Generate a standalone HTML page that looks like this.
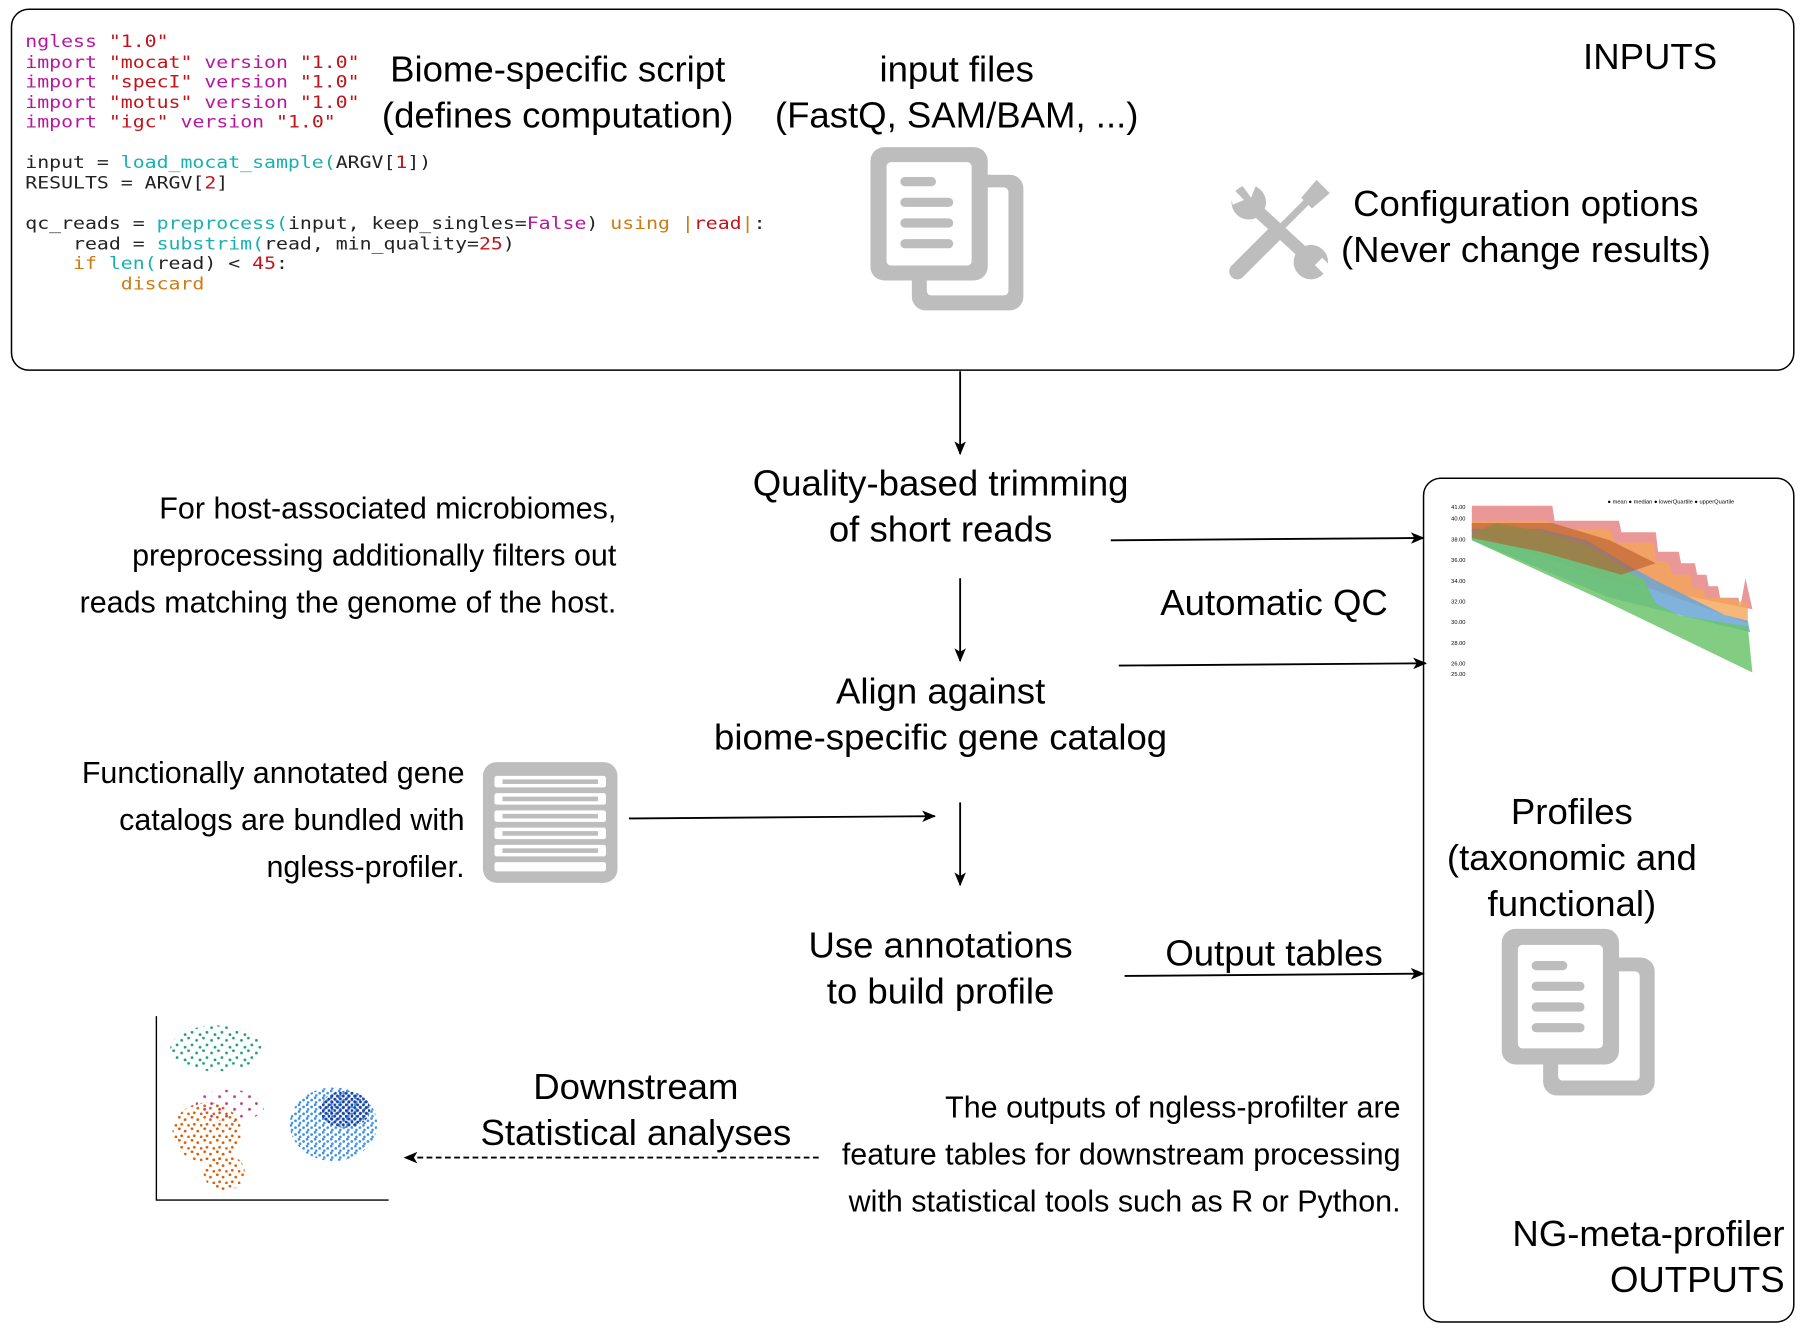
<!DOCTYPE html>
<html><head><meta charset="utf-8"><style>
html,body{margin:0;padding:0;background:#fff}
svg{display:block}
text{font-family:"Liberation Sans",sans-serif;fill:#000}
.c text{font-family:"DejaVu Sans Mono","Liberation Mono",monospace;font-size:15px}
.m{fill:#b5179e}.r{fill:#c0141b}.t{fill:#19b0b0}.o{fill:#d07a12}.k{fill:#222}
.L{font-size:31.8px}.S{font-size:26.5px}
</style></head><body>
<svg width="1803" height="1330" viewBox="0 0 1568 1157" preserveAspectRatio="none" xmlns="http://www.w3.org/2000/svg">
<defs><marker id="a" markerWidth="12" markerHeight="10" refX="11" refY="5" orient="auto" markerUnits="userSpaceOnUse"><path d="M0,0 L12,5 L0,10 L3,5z" fill="#000"/></marker>
<pattern id="pg" width="13" height="11" patternUnits="userSpaceOnUse"><circle cx="2" cy="3" r="1.2" fill="#1a9e77"/><circle cx="8" cy="1" r="1.2" fill="#1a9e77"/><circle cx="11" cy="7" r="1.2" fill="#1a9e77"/><circle cx="5" cy="9" r="1.2" fill="#1a9e77"/></pattern>
<pattern id="pm" width="13" height="11" patternUnits="userSpaceOnUse"><circle cx="2" cy="3" r="1.2" fill="#c0328a"/><circle cx="9" cy="8" r="1.2" fill="#c0328a"/></pattern>
<pattern id="po" width="11" height="10" patternUnits="userSpaceOnUse"><circle cx="2" cy="2" r="1.2" fill="#d95f02"/><circle cx="7" cy="4" r="1.2" fill="#d95f02"/><circle cx="4" cy="8" r="1.2" fill="#d95f02"/><circle cx="10" cy="9" r="1.2" fill="#d95f02"/></pattern>
<pattern id="pb" width="7" height="6" patternUnits="userSpaceOnUse"><circle cx="1" cy="1" r="1.2" fill="#3b8fe0"/><circle cx="5" cy="3" r="1.2" fill="#3b8fe0"/><circle cx="2" cy="5" r="1.1" fill="#3b8fe0"/></pattern>
<pattern id="pd" width="5" height="5" patternUnits="userSpaceOnUse"><circle cx="1" cy="1" r="1.3" fill="#1f3fa0"/><circle cx="3.5" cy="3.5" r="1.3" fill="#1f3fa0"/></pattern>
</defs>
<rect x="10" y="8" width="1550" height="314" rx="15" fill="none" stroke="#000" stroke-width="1.3"/>
<rect x="1238" y="416" width="322" height="734" rx="15" fill="none" stroke="#000" stroke-width="1.3"/>
<g class="c" transform="translate(22,0) scale(1.15,1) translate(-22,0)">
<text x="22" y="41"><tspan class="m">ngless </tspan><tspan class="r">"1.0"</tspan></text>
<text x="22" y="59"><tspan class="m">import </tspan><tspan class="r">"mocat" </tspan><tspan class="m">version </tspan><tspan class="r">"1.0"</tspan></text>
<text x="22" y="76"><tspan class="m">import </tspan><tspan class="r">"specI" </tspan><tspan class="m">version </tspan><tspan class="r">"1.0"</tspan></text>
<text x="22" y="94"><tspan class="m">import </tspan><tspan class="r">"motus" </tspan><tspan class="m">version </tspan><tspan class="r">"1.0"</tspan></text>
<text x="22" y="111"><tspan class="m">import </tspan><tspan class="r">"igc" </tspan><tspan class="m">version </tspan><tspan class="r">"1.0"</tspan></text>
<text x="22" y="146"><tspan class="k">input = </tspan><tspan class="t">load_mocat_sample(</tspan><tspan class="k">ARGV[</tspan><tspan class="r">1</tspan><tspan class="k">])</tspan></text>
<text x="22" y="164"><tspan class="k">RESULTS = ARGV[</tspan><tspan class="r">2</tspan><tspan class="k">]</tspan></text>
<text x="22" y="199"><tspan class="k">qc_reads = </tspan><tspan class="t">preprocess(</tspan><tspan class="k">input, keep_singles=</tspan><tspan class="m">False</tspan><tspan class="k">) </tspan><tspan class="o">using |</tspan><tspan class="r">read</tspan><tspan class="o">|</tspan><tspan class="k">:</tspan></text>
<text x="22" y="217" xml:space="preserve"><tspan class="k">    read = </tspan><tspan class="t">substrim(</tspan><tspan class="k">read, min_quality=</tspan><tspan class="r">25</tspan><tspan class="k">)</tspan></text>
<text x="22" y="234" xml:space="preserve"><tspan class="o">    if </tspan><tspan class="t">len(</tspan><tspan class="k">read) &lt; </tspan><tspan class="r">45</tspan><tspan class="k">:</tspan></text>
<text x="22" y="252" xml:space="preserve"><tspan class="o">        discard</tspan></text>
</g>
<g class="L" text-anchor="middle">
<text x="485" y="71">Biome-specific script</text>
<text x="485" y="111">(defines computation)</text>
<text x="832" y="71">input files</text>
<text x="832" y="111">(FastQ, SAM/BAM, ...)</text>
<text x="1435" y="60">INPUTS</text>
<text x="1327" y="188">Configuration options</text>
<text x="1327" y="228">(Never change results)</text>
<text x="818" y="431">Quality-based trimming</text>
<text x="818" y="471">of short reads</text>
<text x="1108" y="535">Automatic QC</text>
<text x="818" y="612">Align against</text>
<text x="818" y="652">biome-specific gene catalog</text>
<text x="1367" y="717">Profiles</text>
<text x="1367" y="757">(taxonomic and</text>
<text x="1367" y="797">functional)</text>
<text x="818" y="833">Use annotations</text>
<text x="818" y="873">to build profile</text>
<text x="1108" y="840">Output tables</text>
<text x="553" y="956">Downstream</text>
<text x="553" y="996">Statistical analyses</text>
</g>
<g class="L" text-anchor="end">
<text x="1552" y="1084">NG-meta-profiler</text>
<text x="1552" y="1124">OUTPUTS</text>
</g>
<g class="S" text-anchor="end">
<text x="536" y="451">For host-associated microbiomes,</text>
<text x="536" y="492">preprocessing additionally filters out</text>
<text x="536" y="533">reads matching the genome of the host.</text>
<text x="404" y="681">Functionally annotated gene</text>
<text x="404" y="722">catalogs are bundled with</text>
<text x="404" y="763">ngless-profiler.</text>
<text x="1218" y="972">The outputs of ngless-profilter are</text>
<text x="1218" y="1013">feature tables for downstream processing</text>
<text x="1218" y="1054">with statistical tools such as R or Python.</text>
</g>
<g stroke="#000" stroke-width="1.6" fill="none" marker-end="url(#a)">
<line x1="835" y1="323" x2="835" y2="395"/>
<line x1="835" y1="503" x2="835" y2="575"/>
<line x1="835" y1="698" x2="835" y2="770"/>
<line x1="966" y1="470" x2="1238" y2="468"/>
<line x1="973" y1="579" x2="1240" y2="577"/>
<line x1="547" y1="712" x2="813" y2="710"/>
<line x1="978" y1="849" x2="1238" y2="847"/>
<line x1="712" y1="1007" x2="352" y2="1007" stroke-dasharray="5,3"/>
</g>
<g>
<rect x="793" y="152" width="97" height="118" rx="12" fill="#bdbdbd"/>
<rect x="806" y="163" width="71" height="94" rx="4" fill="#fff"/>
<rect x="757" y="128" width="102" height="116" rx="12" fill="#bdbdbd"/>
<rect x="771" y="141" width="74" height="90" rx="4" fill="#fff"/>
<g stroke="#bdbdbd" stroke-width="8" stroke-linecap="round"><line x1="787" y1="158" x2="810" y2="158"/><line x1="787" y1="176" x2="825" y2="176"/><line x1="787" y1="194" x2="825" y2="194"/><line x1="787" y1="212" x2="825" y2="212"/></g>
</g>
<g>
<rect x="1342" y="833" width="97" height="120" rx="12" fill="#bdbdbd"/>
<rect x="1355" y="845" width="71" height="95" rx="4" fill="#fff"/>
<rect x="1306" y="808" width="102" height="118" rx="12" fill="#bdbdbd"/>
<rect x="1320" y="822" width="74" height="90" rx="4" fill="#fff"/>
<g stroke="#bdbdbd" stroke-width="8" stroke-linecap="round"><line x1="1336" y1="840" x2="1359" y2="840"/><line x1="1336" y1="858" x2="1374" y2="858"/><line x1="1336" y1="876" x2="1374" y2="876"/><line x1="1336" y1="894" x2="1374" y2="894"/></g>
</g>
<g>
<rect x="420" y="663" width="117" height="105" rx="12" fill="#bdbdbd"/>
<g fill="#fff"><rect x="430" y="675" width="97" height="10" rx="2"/><rect x="430" y="690" width="97" height="10" rx="2"/><rect x="430" y="705" width="97" height="10" rx="2"/><rect x="430" y="720" width="97" height="10" rx="2"/><rect x="430" y="735" width="97" height="10" rx="2"/><rect x="430" y="750" width="97" height="8" rx="2"/></g>
<g fill="#bdbdbd"><rect x="437" y="678" width="83" height="4"/><rect x="437" y="693" width="83" height="4"/><rect x="437" y="708" width="83" height="4"/><rect x="437" y="723" width="83" height="4"/><rect x="437" y="738" width="83" height="4"/></g>
</g>
<g fill="#bdbdbd" stroke="#bdbdbd">
<line x1="1076" y1="236" x2="1108" y2="204" stroke-width="14" stroke-linecap="round"/>
<line x1="1108" y1="204" x2="1140" y2="172" stroke-width="6"/>
<path d="M1133,172 l12,-14 l10,10 l-14,12z" stroke-width="2"/>
<line x1="1090" y1="180" x2="1140" y2="226" stroke-width="11"/>
<circle cx="1086" cy="176" r="15" stroke="none"/>
<circle cx="1140" cy="228" r="15" stroke="none"/>
<g fill="#fff" stroke="none"><path d="M1068,160 l14,14 l-10,4z"/><path d="M1078,158 l10,14 l4,-10z"/><rect x="1145" y="228" width="14" height="9" transform="rotate(45 1152 232)"/></g>
</g>
<g>
<polygon points="1280,440 1350,440 1352,453 1408,453 1410,463 1440,463 1442,480 1460,480 1462,490 1474,490 1476,500 1484,500 1486,510 1494,510 1496,520 1512,520 1513,530 1518,503 1524,530 1400,505 1280,463" fill="#e68585" opacity="0.85"/>
<polygon points="1280,453 1345,453 1360,460 1400,460 1405,472 1438,472 1440,488 1450,488 1455,500 1470,500 1472,512 1480,512 1485,520 1500,520 1520,525 1520,542 1400,500 1280,463" fill="#f5a55a" opacity="0.8"/>
<polygon points="1280,460 1340,460 1380,470 1400,482 1420,494 1440,505 1460,515 1480,525 1500,535 1520,540 1522,550 1400,520 1280,470" fill="#6aa6d6" opacity="0.85"/>
<polygon points="1280,465 1300,455 1340,462 1380,475 1430,505 1440,525 1460,535 1520,545 1524,585 1400,525 1280,470" fill="#6cc46c" opacity="0.85"/>
<polygon points="1280,455 1350,455 1400,470 1440,490 1410,500 1340,480 1280,468" fill="#b55a2a" opacity="0.6"/>
<g font-size="5" fill="#444">
<text x="1262" y="443">41.00</text><text x="1262" y="453">40.00</text><text x="1262" y="471">38.00</text><text x="1262" y="489">36.00</text><text x="1262" y="507">34.00</text><text x="1262" y="525">32.00</text><text x="1262" y="543">30.00</text><text x="1262" y="561">28.00</text><text x="1262" y="579">26.00</text><text x="1262" y="588">25.00</text>
<text x="1398" y="438">● mean  ● median  ● lowerQuartile  ● upperQuartile</text>
</g>
</g>
<polyline points="136,884 136,1044 338,1044" fill="none" stroke="#000" stroke-width="1.2"/>
<ellipse cx="188" cy="912" rx="40" ry="20" fill="url(#pg)"/>
<ellipse cx="200" cy="962" rx="30" ry="14" fill="url(#pm)"/>
<ellipse cx="180" cy="985" rx="30" ry="26" fill="url(#po)"/>
<ellipse cx="195" cy="1020" rx="18" ry="16" fill="url(#po)"/>
<ellipse cx="290" cy="978" rx="38" ry="32" fill="url(#pb)"/>
<ellipse cx="300" cy="965" rx="22" ry="16" fill="url(#pd)"/>
</svg>
</body></html>
